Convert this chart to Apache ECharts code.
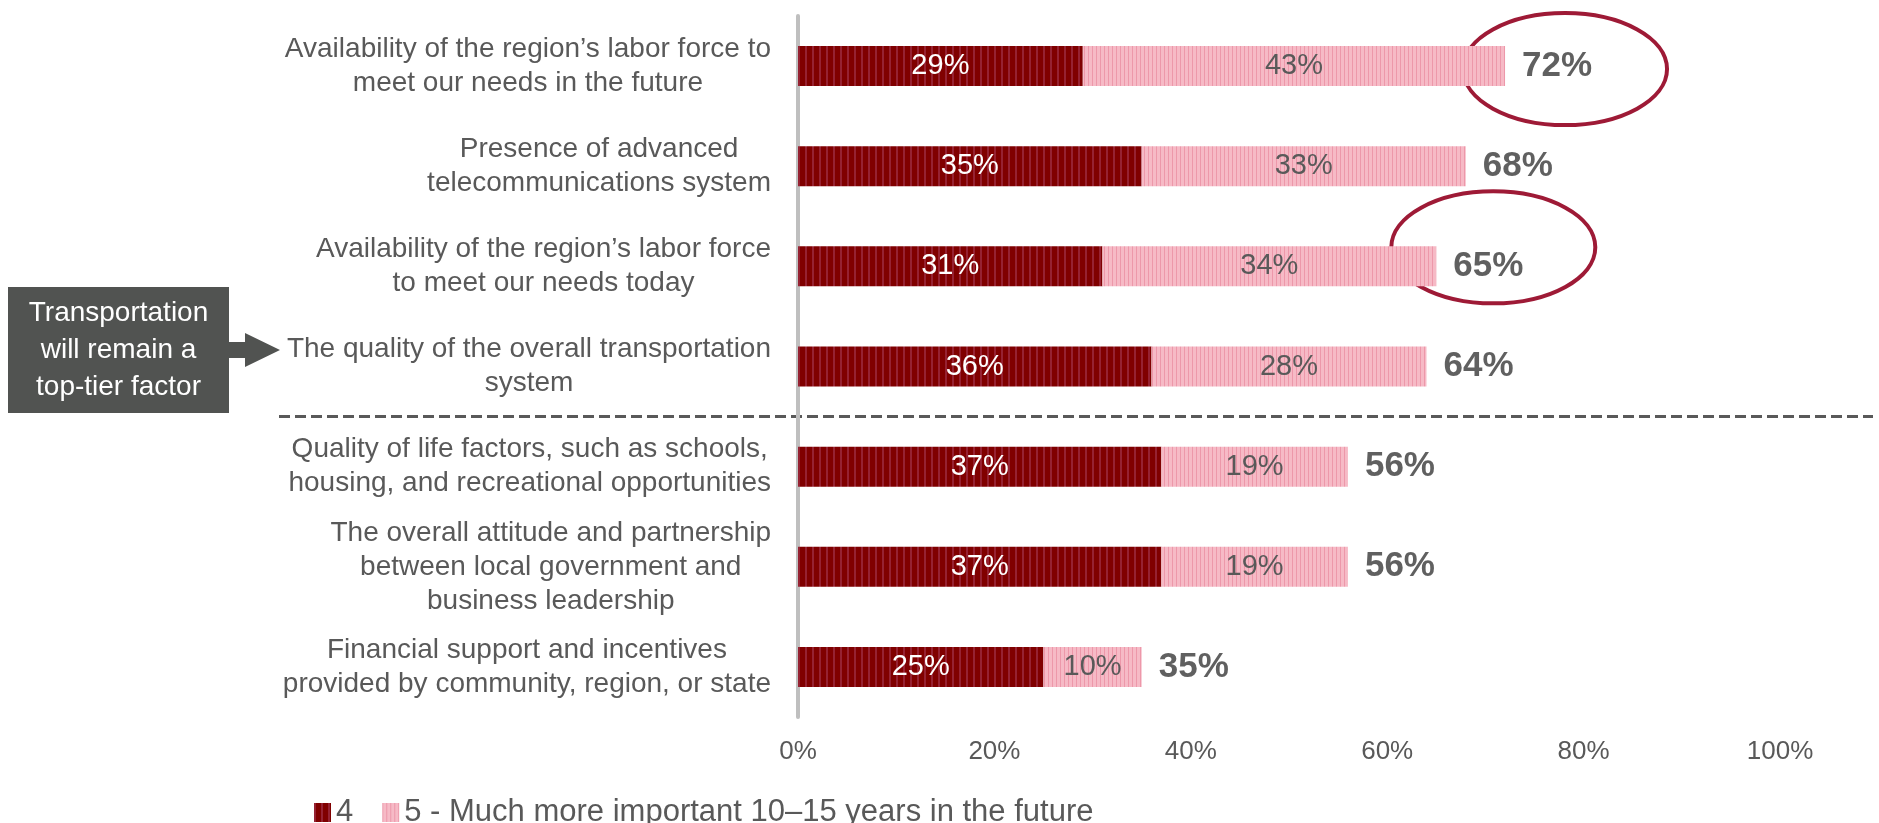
<!DOCTYPE html>
<html>
<head>
<meta charset="utf-8">
<script src="https://cdn.jsdelivr.net/npm/echarts@6/dist/echarts.min.js"></script>
<style>
  html, body { margin: 0; padding: 0; background: #ffffff; }
  #chart { width: 1879px; height: 823px; }
</style>
</head>
<body>
<div id="chart"></div>
<script>
// Factors rated by importance 10–15 years out (share of respondents)
const categories = [
  'Availability of the region’s labor force to\nmeet our needs in the future',
  'Presence of advanced\ntelecommunications system',
  'Availability of the region’s labor force\nto meet our needs today',
  'The quality of the overall transportation\nsystem',
  'Quality of life factors, such as schools,\nhousing, and recreational opportunities',
  'The overall attitude and partnership\nbetween local government and\nbusiness leadership',
  'Financial support and incentives\nprovided by community, region, or state'
];
const ratedFour = [29, 35, 31, 36, 37, 37, 25];
const ratedFive = [43, 33, 34, 28, 19, 19, 10];
const seriesNames = ['4', '5 - Much more important 10–15 years in the future'];
const xTicks = [0, 20, 40, 60, 80, 100];
const calloutLines = ['Transportation', 'will remain a', 'top-tier factor'];
const circledRows = [0, 2];
const dividerAfterRow = 3;

const totals = ratedFour.map((v, i) => v + ratedFive[i]);

const FONT = '"Liberation Sans", Arial, sans-serif';
const LABEL_GREY = '#595959';

// Vertical pinstripe fills for the two bar segments
function stripePattern(base, stripe, period, stripeWidth) {
  const c = document.createElement('canvas');
  c.width = period;
  c.height = 4;
  const g = c.getContext('2d');
  g.fillStyle = base;
  g.fillRect(0, 0, period, 4);
  g.fillStyle = stripe;
  g.fillRect(0, 0, stripeWidth, 4);
  return { image: c, repeat: 'repeat' };
}
const darkFill = stripePattern('#800000', '#962232', 7, 2);
const pinkFill = stripePattern('#f6bac6', '#ed98aa', 4, 1);

const chart = echarts.init(document.getElementById('chart'), null, { renderer: 'canvas' });

const insideLabel = color => ({
  show: true,
  position: 'inside',
  color: color,
  fontFamily: FONT,
  fontSize: 29,
  formatter: p => p.value + '%'
});

chart.setOption({
  animation: false,
  backgroundColor: '#ffffff',
  grid: { left: 798, right: 99, top: 16, bottom: 106, containLabel: false },
  legend: {
    data: seriesNames,
    left: 309,
    top: 792,
    icon: 'rect',
    itemWidth: 17,
    itemHeight: 19,
    itemGap: 29,
    selectedMode: false,
    textStyle: { color: LABEL_GREY, fontFamily: FONT, fontSize: 31 }
  },
  xAxis: {
    type: 'value',
    min: xTicks[0],
    max: xTicks[xTicks.length - 1],
    interval: xTicks[1] - xTicks[0],
    axisLine: { show: false },
    axisTick: { show: false },
    splitLine: { show: false },
    axisLabel: {
      color: LABEL_GREY,
      fontFamily: FONT,
      fontSize: 26,
      margin: 22,
      formatter: '{value}%'
    }
  },
  yAxis: {
    type: 'category',
    data: categories,
    inverse: true,
    axisLine: { show: true, lineStyle: { color: '#bfbfbf', width: 4 } },
    axisTick: { show: false },
    splitLine: { show: false },
    axisLabel: {
      margin: 27,
      align: 'right',
      color: LABEL_GREY,
      fontFamily: FONT,
      fontSize: 28,
      lineHeight: 34,
      formatter: v => v.split('\n').map(line => '{c|' + line + '}').join('\n'),
      rich: {
        c: { align: 'center', color: LABEL_GREY, fontFamily: FONT, fontSize: 28, lineHeight: 34 }
      }
    }
  },
  series: [
    {
      name: seriesNames[0],
      type: 'bar',
      stack: 'share',
      barWidth: 40,
      itemStyle: { color: darkFill },
      label: insideLabel('#ffffff'),
      data: ratedFour
    },
    {
      name: seriesNames[1],
      type: 'bar',
      stack: 'share',
      barWidth: 40,
      itemStyle: { color: pinkFill },
      label: insideLabel(LABEL_GREY),
      data: ratedFive
    },
    {
      name: 'total',
      type: 'scatter',
      symbolSize: 0,
      silent: true,
      label: {
        show: true,
        position: 'right',
        distance: 17,
        color: '#383838',
        fontFamily: FONT,
        fontSize: 35,
        fontWeight: 'bold',
        formatter: p => p.value[0] + '%'
      },
      data: totals.map((t, i) => [t, i])
    }
  ]
});

// Annotations: divider, callout box with arrow, and circled totals
const graphics = [];

const rowY = i => chart.convertToPixel({ gridIndex: 0 }, [0, i])[1];
const dividerY = (rowY(dividerAfterRow) + rowY(dividerAfterRow + 1)) / 2;
graphics.push({
  type: 'line',
  shape: { x1: 279, y1: dividerY, x2: 1873, y2: dividerY },
  style: { stroke: LABEL_GREY, lineWidth: 3, lineDash: [11, 5] },
  silent: true
});

graphics.push({
  type: 'rect',
  shape: { x: 8, y: 287, width: 221, height: 126 },
  style: { fill: '#515351' },
  silent: true
});
graphics.push({
  type: 'text',
  x: 118.5,
  y: 350,
  style: {
    text: calloutLines.join('\n'),
    fill: '#ffffff',
    font: '28px ' + FONT,
    lineHeight: 37,
    align: 'center',
    verticalAlign: 'middle'
  },
  silent: true
});
graphics.push({
  type: 'polygon',
  shape: {
    points: [[229, 342], [245, 342], [245, 333], [280, 350], [245, 367], [245, 358], [229, 358]]
  },
  style: { fill: '#515351' },
  silent: true
});

const ringOffsets = [
  { dx: 60, dy: 3 },
  { dx: 57, dy: -19 }
];
circledRows.forEach((row, k) => {
  const end = chart.convertToPixel({ gridIndex: 0 }, [totals[row], row]);
  graphics.push({
    type: 'ellipse',
    shape: { cx: end[0] + ringOffsets[k].dx, cy: end[1] + ringOffsets[k].dy, rx: 102, ry: 56 },
    style: { fill: null, stroke: '#9e1a36', lineWidth: 4 },
    silent: true
  });
});

chart.setOption({ graphic: graphics });
</script>
</body>
</html>
